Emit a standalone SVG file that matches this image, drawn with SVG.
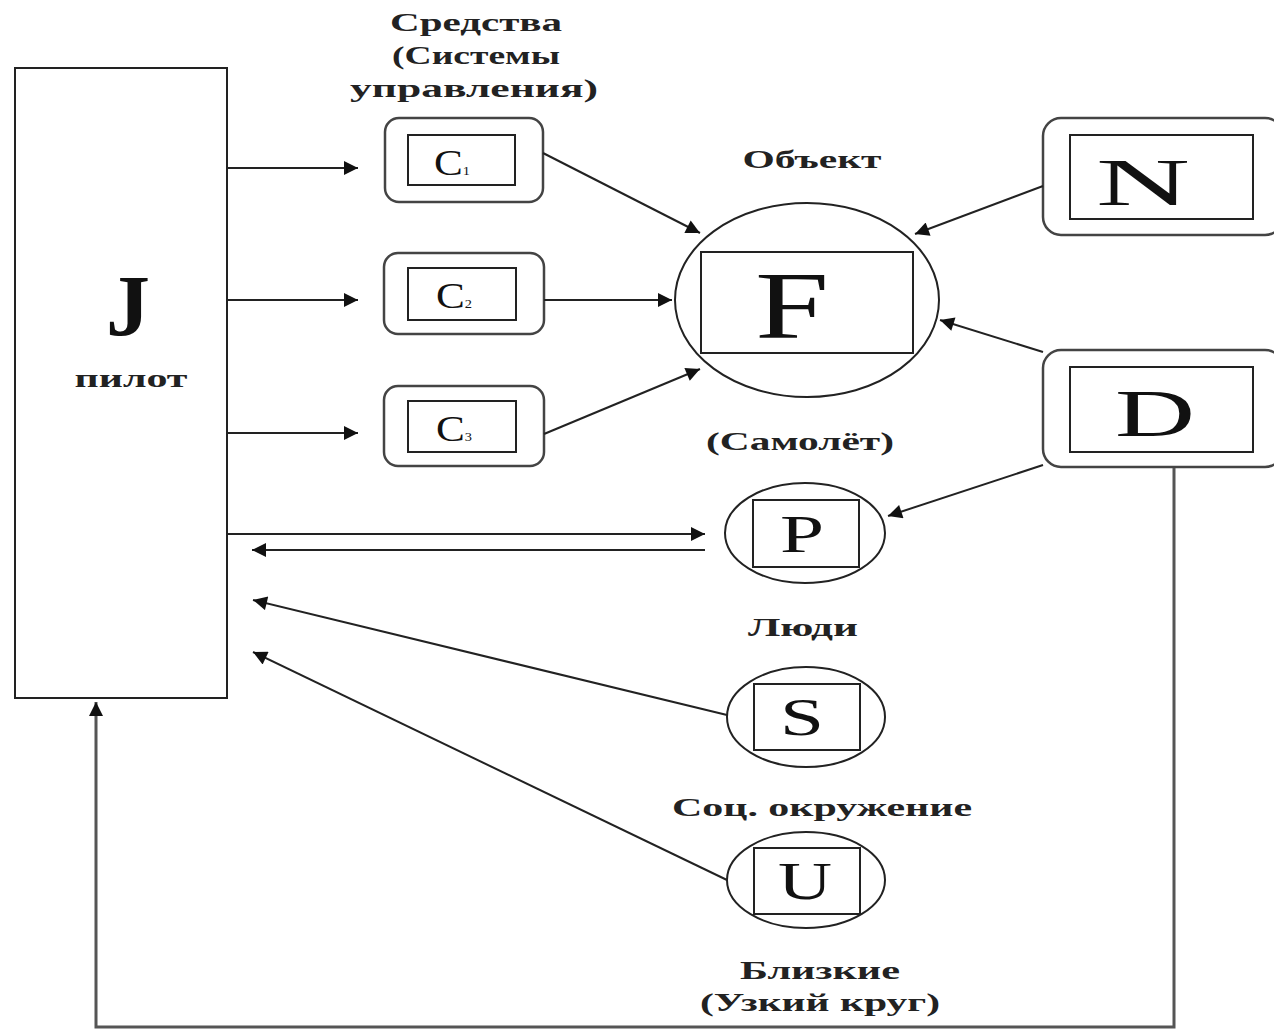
<svg xmlns="http://www.w3.org/2000/svg" width="1274" height="1031" viewBox="0 0 1274 1031">
<style>
.box{fill:#fff;stroke:#222;stroke-width:2}
.rbox{fill:#fff;stroke:#444;stroke-width:2.5}
.ln{stroke:#222;stroke-width:2;fill:none}
.lbl{font-family:"Liberation Serif",serif;font-weight:bold;font-size:26px;fill:#222;text-anchor:middle}
.big{font-family:"Liberation Serif",serif;fill:#111;text-anchor:middle}
</style>
<defs>
<marker id="ah2" viewBox="0 0 10 10" refX="10" refY="5" markerWidth="16" markerHeight="14" markerUnits="userSpaceOnUse" orient="auto"><path d="M0,0 L10,5 L0,10 z" fill="#111"/></marker>
</defs>
<rect width="1274" height="1031" fill="#fff"/>
<g id="J">
<rect class="box" x="15" y="68" width="212" height="630"/>
<text class="big" x="128" y="335" font-size="86" font-weight="bold" textLength="44" lengthAdjust="spacingAndGlyphs">J</text>
<text class="lbl" x="131" y="387" font-size="22" textLength="113" lengthAdjust="spacingAndGlyphs">пилот</text>
</g>
<g id="C1">
<rect class="rbox" x="385" y="118" width="158" height="84" rx="14"/>
<rect class="box" x="408" y="135" width="107" height="50"/>
<text class="big" x="452" y="175" font-size="36" textLength="36" lengthAdjust="spacingAndGlyphs">C<tspan font-size="12">1</tspan></text>
</g>
<g id="C2">
<rect class="rbox" x="384" y="253" width="160" height="81" rx="14"/>
<rect class="box" x="408" y="268" width="108" height="52"/>
<text class="big" x="454" y="308" font-size="36" textLength="36" lengthAdjust="spacingAndGlyphs">C<tspan font-size="12">2</tspan></text>
</g>
<g id="C3">
<rect class="rbox" x="384" y="386" width="160" height="80" rx="14"/>
<rect class="box" x="408" y="401" width="108" height="51"/>
<text class="big" x="454" y="441" font-size="36" textLength="36" lengthAdjust="spacingAndGlyphs">C<tspan font-size="12">3</tspan></text>
</g>
<g id="F">
<ellipse class="box" cx="807" cy="300" rx="132" ry="97"/>
<rect class="box" x="701" y="252" width="212" height="101"/>
<text class="big" x="792" y="338" font-size="96" textLength="74" lengthAdjust="spacingAndGlyphs">F</text>
</g>
<g id="N">
<rect class="rbox" x="1043" y="118" width="240" height="117" rx="18"/>
<rect class="box" x="1070" y="135" width="183" height="84"/>
<text class="big" x="1143" y="205" font-size="68" textLength="94" lengthAdjust="spacingAndGlyphs">N</text>
</g>
<g id="D">
<rect class="rbox" x="1043" y="350" width="240" height="117" rx="18"/>
<rect class="box" x="1070" y="367" width="183" height="85"/>
<text class="big" x="1155" y="436" font-size="68" textLength="80" lengthAdjust="spacingAndGlyphs">D</text>
</g>
<g id="P">
<ellipse class="box" cx="805" cy="533" rx="80" ry="50"/>
<rect class="box" x="753" y="500" width="106" height="67"/>
<text class="big" x="802" y="552" font-size="52" textLength="44" lengthAdjust="spacingAndGlyphs">P</text>
</g>
<g id="S">
<ellipse class="box" cx="806" cy="717" rx="79" ry="50"/>
<rect class="box" x="754" y="684" width="106" height="66"/>
<text class="big" x="802" y="735" font-size="52" textLength="44" lengthAdjust="spacingAndGlyphs">S</text>
</g>
<g id="U">
<ellipse class="box" cx="806" cy="880" rx="79" ry="48"/>
<rect class="box" x="754" y="848" width="106" height="66"/>
<text class="big" x="805" y="899" font-size="52" textLength="54" lengthAdjust="spacingAndGlyphs">U</text>
</g>
<g id="labels">
<text class="lbl" x="476" y="31" textLength="172" lengthAdjust="spacingAndGlyphs">Средства</text>
<text class="lbl" x="476" y="64" textLength="168" lengthAdjust="spacingAndGlyphs">(Системы</text>
<text class="lbl" x="474" y="97" textLength="248" lengthAdjust="spacingAndGlyphs">управления)</text>
<text class="lbl" x="812" y="168" textLength="139" lengthAdjust="spacingAndGlyphs">Объект</text>
<text class="lbl" x="800" y="450" textLength="188" lengthAdjust="spacingAndGlyphs">(Самолёт)</text>
<text class="lbl" x="803" y="636" textLength="110" lengthAdjust="spacingAndGlyphs">Люди</text>
<text class="lbl" x="822" y="816" textLength="300" lengthAdjust="spacingAndGlyphs">Соц. окружение</text>
<text class="lbl" x="820" y="979" textLength="160" lengthAdjust="spacingAndGlyphs">Близкие</text>
<text class="lbl" x="820" y="1011" textLength="240" lengthAdjust="spacingAndGlyphs">(Узкий круг)</text>
</g>
<g id="connectors">
<line class="ln" x1="227" y1="168" x2="358" y2="168" marker-end="url(#ah2)"/>
<line class="ln" x1="227" y1="300" x2="358" y2="300" marker-end="url(#ah2)"/>
<line class="ln" x1="227" y1="433" x2="358" y2="433" marker-end="url(#ah2)"/>
<line class="ln" x1="227" y1="534" x2="705" y2="534" marker-end="url(#ah2)"/>
<line class="ln" x1="705" y1="550" x2="252" y2="550" marker-end="url(#ah2)"/>
<line class="ln" x1="543" y1="153" x2="700" y2="233" marker-end="url(#ah2)"/>
<line class="ln" x1="544" y1="300" x2="672" y2="300" marker-end="url(#ah2)"/>
<line class="ln" x1="544" y1="434" x2="700" y2="369" marker-end="url(#ah2)"/>
<line class="ln" x1="1043" y1="186" x2="915" y2="234" marker-end="url(#ah2)"/>
<line class="ln" x1="1043" y1="352" x2="940" y2="320" marker-end="url(#ah2)"/>
<line class="ln" x1="1043" y1="465" x2="888" y2="516" marker-end="url(#ah2)"/>
<line class="ln" x1="727" y1="715" x2="253" y2="600" marker-end="url(#ah2)"/>
<line class="ln" x1="727" y1="880" x2="253" y2="652" marker-end="url(#ah2)"/>
<polyline points="1174,468 1174,1027 96,1027 96,702" fill="none" stroke="#555" stroke-width="3" marker-end="url(#ah2)"/>
</g>
</svg>
